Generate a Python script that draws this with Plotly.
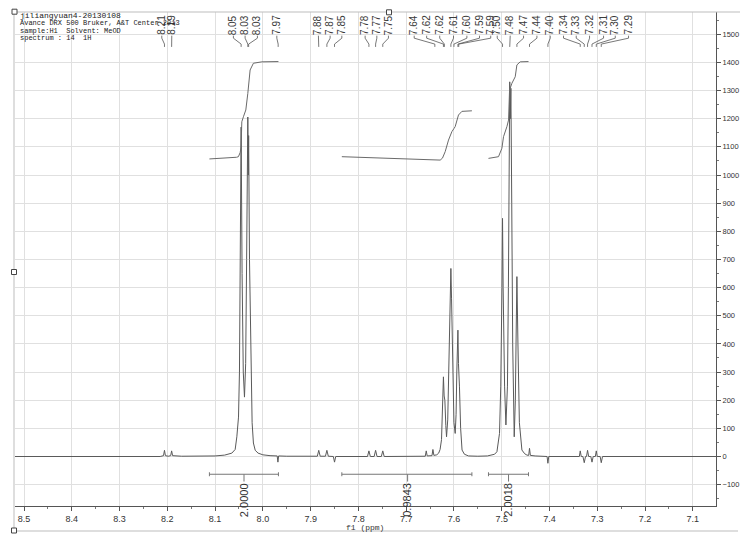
import plotly.graph_objects as go

# ---------------- data ----------------
spec_ppm = [
    8.519, 8.215, 8.208, 8.206, 8.204, 8.198, 8.193, 8.191, 8.189, 8.170,
    8.100, 8.080, 8.065, 8.058, 8.0545, 8.051, 8.049, 8.047, 8.0455, 8.0435,
    8.041, 8.0385, 8.036, 8.034, 8.0315, 8.0305, 8.0298, 8.028, 8.025, 8.0225,
    8.0198, 8.016, 8.010, 8.000, 7.985, 7.970, 7.9685, 7.967, 7.950, 7.886,
    7.883, 7.880, 7.869, 7.866, 7.863, 7.8525, 7.850, 7.8475, 7.781, 7.778,
    7.775, 7.767, 7.764, 7.761, 7.752, 7.749, 7.746, 7.660, 7.658, 7.656,
    7.646, 7.644, 7.642, 7.636, 7.632, 7.629, 7.626, 7.624, 7.622, 7.6205,
    7.619, 7.617, 7.6155, 7.613, 7.6105, 7.608, 7.6064, 7.605, 7.602, 7.600,
    7.5974, 7.5955, 7.594, 7.5917, 7.5905, 7.590, 7.5885, 7.586, 7.583, 7.578,
    7.5695, 7.550, 7.530, 7.515, 7.510, 7.5046, 7.502, 7.4995, 7.4983, 7.497,
    7.494, 7.4912, 7.488, 7.486, 7.4845, 7.4832, 7.482, 7.4808, 7.479, 7.477,
    7.4738, 7.4715, 7.470, 7.4682, 7.466, 7.463, 7.4577, 7.452, 7.4472, 7.4435,
    7.4418, 7.440, 7.430, 7.405, 7.4033, 7.4015, 7.3375, 7.3356, 7.3335, 7.330,
    7.3272, 7.3245, 7.3225, 7.3203, 7.318, 7.3135, 7.311, 7.3085, 7.304, 7.302,
    7.300, 7.294, 7.2916, 7.289, 7.0514]
spec_int = [
    0, 0, 3, 22, 3, 1, 3, 20, 3, 1,
    2, 5, 12, 25, 70, 140, 300, 650, 1170, 650,
    300, 211, 330, 700, 1206, 1000, 1140, 700, 300, 120,
    48, 22, 12, 6, 3, 2, -20, 2, 1, 1,
    22, 1, 1, 22, 1, 0, -20, 0, 0, 20,
    0, 0, 22, 0, 0, 20, 0, 1, 20, 2,
    3, 25, 4, 6, 12, 25, 60, 150, 283, 215,
    200, 110, 70, 130, 300, 560, 668, 560, 250, 120,
    82, 150, 300, 449, 330, 313, 250, 100, 23, 8,
    2, 1, 2, 8, 17, 82, 250, 600, 846, 600,
    250, 112, 250, 600, 1100, 1331, 1200, 1308, 900, 400,
    70, 200, 400, 639, 400, 120, 23, 10, 5, 4,
    29, 4, 2, 0, -24, 0, 0, 20, 0, 0,
    -22, 0, 0, 22, 0, 0, -20, 0, 0, 20,
    0, 0, -22, 0, 0]
assert len(spec_ppm) == len(spec_int)

int1_ppm = [8.1119, 8.079, 8.055, 8.0512, 8.0475, 8.0455, 8.0441, 8.0407, 8.0357, 8.0315, 8.0267, 8.0198, 8.0022, 7.9674]
int1_val = [1057, 1059, 1063, 1065, 1080, 1100, 1189, 1207, 1231, 1290, 1373, 1397, 1402, 1403]
int2_ppm = [7.8347, 7.75, 7.66, 7.6288, 7.624, 7.6183, 7.6114, 7.6043, 7.600, 7.5974, 7.5905, 7.5833, 7.5624]
int2_val = [1065, 1060, 1055, 1053, 1060, 1083, 1124, 1154, 1165, 1172, 1213, 1226, 1228]
int3_ppm = [7.5277, 7.5067, 7.4996, 7.4962, 7.4891, 7.4857, 7.4836, 7.4786, 7.4717, 7.4682, 7.4613, 7.4439]
int3_val = [1059, 1065, 1095, 1136, 1172, 1195, 1302, 1326, 1349, 1391, 1402, 1403]

region_start = [8.1119, 7.8347, 7.5277]
region_end = [7.9674, 7.5624, 7.4439]
region_center = [8.0395, 7.697, 7.4857]
region_labels = ["2.0000", "0.9843", "2.0018"]

peak_labels = ["8.21", "8.19", "8.05", "8.03", "8.03", "7.97", "7.88", "7.87", "7.85",
               "7.78", "7.77", "7.75", "7.64", "7.62", "7.62", "7.61", "7.60", "7.59",
               "7.59", "7.50", "7.48", "7.47", "7.44", "7.40", "7.34", "7.33", "7.32",
               "7.31", "7.30", "7.29"]
peak_ppm = [8.206, 8.191, 8.0455, 8.0315, 8.0298, 7.968, 7.883, 7.866, 7.850,
            7.778, 7.764, 7.749, 7.640, 7.622, 7.620, 7.6064, 7.600, 7.5917,
            7.590, 7.4983, 7.4832, 7.4682, 7.4418, 7.4033, 7.3356, 7.3272, 7.3203,
            7.311, 7.302, 7.2916]
# where the (spread-out) label text sits along the ppm axis
label_pos = [8.2116, 8.1907, 8.0617, 8.0372, 8.0114, 7.9708, 7.8837, 7.8592, 7.8347,
             7.7859, 7.7614, 7.7371, 7.6832, 7.6571, 7.6298, 7.6009, 7.5729, 7.5465,
             7.5230, 7.5094, 7.4822, 7.4543, 7.4263, 7.3984, 7.3706, 7.3440, 7.3161,
             7.2868, 7.2623, 7.2345]

header_lines = ["jiliangyuan4-20130108",
                "Avance DRX 500 Bruker, A&T Center 2013",
                "sample:H1  Solvent: MeOD",
                "spectrum : 14  1H"]

# ---------------- geometry helpers ----------------
W, H = 754, 542
ML, MR, MT, MB = 15, 38, 12, 36
PW, PH = W - ML - MR, H - MT - MB


def px(xp):
    return (xp - ML) / PW


def py(yp):
    return (H - MB - yp) / PH


LINE = "#5a5a5a"
fig = go.Figure()

fig.add_trace(go.Scatter(x=spec_ppm, y=spec_int, mode="lines",
                         line=dict(color=LINE, width=1), hoverinfo="skip"))
for xs, ys in [(int1_ppm, int1_val), (int2_ppm, int2_val), (int3_ppm, int3_val)]:
    fig.add_trace(go.Scatter(x=xs, y=ys, mode="lines", line=dict(color="#6a6a6a", width=1),
                             hoverinfo="skip"))

# integration brackets
BL = -63
bx, by = [], []
for s, e, c in zip(region_start, region_end, region_center):
    bx += [s, e, None, s, s, None, e, e, None, c, c, None]
    by += [BL, BL, None, BL + 7, BL - 7, None, BL + 7, BL - 7, None, BL, BL - 26, None]
fig.add_trace(go.Scatter(x=bx, y=by, mode="lines", line=dict(color="#777777", width=1),
                         hoverinfo="skip"))

# peak-label connectors
cx, cy = [], []
for lp, pp in zip(label_pos, peak_ppm):
    cx += [lp, lp, pp, pp, None]
    cy += [1495, 1486, 1465, 1455, None]
fig.add_trace(go.Scatter(x=cx, y=cy, mode="lines", line=dict(color="#555555", width=0.8),
                         hoverinfo="skip", cliponaxis=False))

annotations = []
for t, lp in zip(peak_labels, label_pos):
    annotations.append(dict(x=lp, y=1533, xref="x", yref="y", text=t, textangle=-90,
                            showarrow=False, font=dict(family="Liberation Sans", size=10, color="#3a3a3a")))
for t, c in zip(region_labels, region_center):
    annotations.append(dict(x=c, y=-155, xref="x", yref="y", text=t, textangle=-90,
                            showarrow=False, font=dict(family="Liberation Sans", size=11, color="#333")))
for i, t in enumerate(header_lines):
    annotations.append(dict(x=px(18), y=py(15.5 + i * 7.5), xref="paper", yref="paper",
                            xanchor="left", yanchor="middle", text=t, showarrow=False,
                            font=dict(family="Liberation Mono", size=8 if i == 0 else 7, color="#222")))
annotations.append(dict(x=px(365), y=py(527), xref="paper", yref="paper", text="f1 (ppm)",
                        showarrow=False, xanchor="center", yanchor="middle",
                        font=dict(family="Liberation Mono", size=8, color="#333")))

shapes = []
fc = "#bdbdbd"
shapes.append(dict(type="line", xref="paper", yref="paper", x0=px(14), x1=px(740), y0=py(12), y1=py(12),
                   line=dict(color=fc, width=1)))
shapes.append(dict(type="line", xref="paper", yref="paper", x0=px(14), x1=px(14), y0=py(12), y1=py(531),
                   line=dict(color=fc, width=1)))
shapes.append(dict(type="line", xref="paper", yref="paper", x0=px(14), x1=px(738), y0=py(531), y1=py(531),
                   line=dict(color=fc, width=1)))
for hx, hy in [(14.5, 11.7), (389, 12.3), (14, 272), (14, 530.5)]:
    shapes.append(dict(type="rect", xref="paper", yref="paper", x0=px(hx - 2.5), x1=px(hx + 2.5),
                       y0=py(hy - 2.5), y1=py(hy + 2.5), line=dict(color="#444", width=1),
                       fillcolor="white"))

fig.update_layout(
    width=W, height=H, margin=dict(l=ML, r=MR, t=MT, b=MB),
    paper_bgcolor="white", plot_bgcolor="white", showlegend=False,
    annotations=annotations, shapes=shapes,
    xaxis=dict(range=[8.5189, 7.0514], tickmode="linear", tick0=8.5, dtick=0.1, tickformat=".1f",
               ticks="outside", ticklen=4, tickcolor="#555", showline=True, linecolor="#555",
               linewidth=1, showgrid=True, gridcolor="#e0e0e0", zeroline=False,
               tickfont=dict(family="Liberation Sans", size=9, color="#333"),
               minor=dict(dtick=0.05, tick0=8.5, ticks="outside", ticklen=2, tickcolor="#777", showgrid=False)),
    yaxis=dict(range=[-175.8, 1579], side="right", tickmode="linear", tick0=0, dtick=100,
               ticks="outside", ticklen=4, tickcolor="#555", showline=True, linecolor="#555",
               linewidth=1, showgrid=True, gridcolor="#e0e0e0", zeroline=False,
               tickfont=dict(family="Liberation Sans", size=7.5, color="#333"),
               minor=dict(dtick=50, tick0=0, ticks="outside", ticklen=2, tickcolor="#777", showgrid=False)),
)

fig.write_html("out.html", config={"displayModeBar": False},
               post_script="document.body.style.margin='0px';")
